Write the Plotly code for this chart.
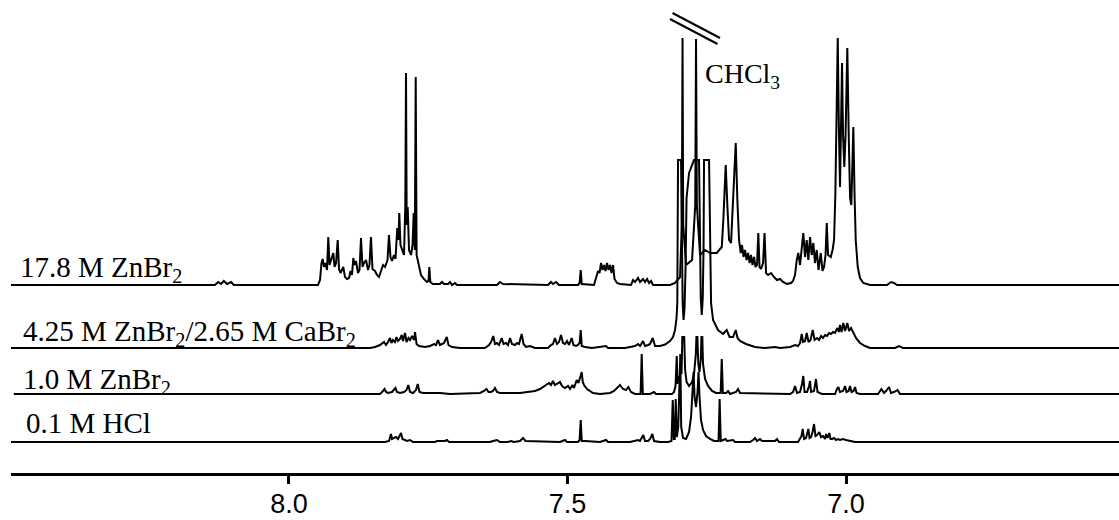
import plotly.graph_objects as go

# ---------------- data (chemical shift in ppm, intensity in a.u.) ----------------
shift_zn178 = [
    8.499, 8.133, 8.127, 8.122, 8.117, 8.111, 8.104, 8.099,
    7.9479, 7.9443, 7.9416, 7.9395, 7.9371, 7.9344, 7.9317, 7.9294, 7.9272, 7.9245,
    7.9204, 7.9182, 7.9155, 7.9125, 7.9102, 7.9075, 7.9025, 7.8994, 7.8958, 7.8922,
    7.8895, 7.8869, 7.8845, 7.8824, 7.8797, 7.8761, 7.8734, 7.8707, 7.8680, 7.8653,
    7.8617, 7.8581, 7.8555, 7.8528, 7.8501, 7.8456, 7.8420, 7.8384, 7.8348, 7.8312,
    7.8276, 7.8231, 7.8205, 7.8178, 7.8151, 7.8115, 7.8088, 7.8056, 7.8034, 7.8020,
    7.7998, 7.7971, 7.7935, 7.7912, 7.7899, 7.7887, 7.7869, 7.7845, 7.7809, 7.7782,
    7.7761, 7.7741, 7.7725, 7.7709, 7.7666, 7.7630, 7.7576, 7.7522, 7.7495, 7.7481,
    7.7463, 7.7415, 7.7289, 7.7253, 7.7217, 7.7145, 7.7109, 7.7073, 7.7019, 7.6984,
    7.6266, 7.6212, 7.6158, 7.5350, 7.5297, 7.5261, 7.5207, 7.5153,
    7.4812, 7.4783, 7.4763, 7.4744,
    7.4524, 7.4488, 7.4452, 7.4425, 7.4398, 7.4371, 7.4344, 7.4317, 7.4290, 7.4263,
    7.4236, 7.4210, 7.4183, 7.4156, 7.4111, 7.4057,
    7.3860, 7.3824, 7.3788, 7.3734, 7.3698, 7.3644, 7.3608, 7.3572, 7.3536, 7.3500, 7.3465,
    7.3160, 7.3070, 7.2980, 7.2948, 7.2935, 7.2923, 7.2872, 7.2764, 7.2707, 7.2693,
    7.2678, 7.2621, 7.2531, 7.2441,
    7.2321, 7.2231, 7.2203, 7.2160, 7.2131, 7.2100, 7.2064, 7.2028, 7.1980, 7.1951, 7.1921,
    7.1890, 7.1867, 7.1840, 7.1813, 7.1786, 7.1759, 7.1732, 7.1706, 7.1679, 7.1652, 7.1625, 7.1598,
    7.1575, 7.1553, 7.1526, 7.1490, 7.1463, 7.1436, 7.1400, 7.1346, 7.1293, 7.1239,
    7.1185, 7.1131, 7.1059, 7.0987, 7.0952,
    7.0916, 7.0885, 7.0857, 7.0826, 7.0799, 7.0767, 7.0736, 7.0706, 7.0677, 7.0646,
    7.0616, 7.0587, 7.0557, 7.0526, 7.0494,
    7.0454, 7.0422, 7.0395, 7.0368, 7.0346, 7.0323, 7.0274, 7.0242, 7.0215, 7.0192,
    7.0170, 7.0149, 7.0129,
    7.0108, 7.0090, 7.0072, 7.0054, 7.0031, 7.0009, 6.9977, 6.9952, 6.9928, 6.9905,
    6.9887, 6.9869, 6.9847, 6.9826, 6.9790, 6.9749, 6.9690, 6.9569,
    6.9264, 6.9193, 6.9139, 6.9085, 6.510,
]
inten_zn178 = [
    0, 0, 3, 1, 4, 1, 3, 0,
    0, 5, 22, 26, 18, 22, 15, 48, 20, 24,
    32, 18, 22, 45, 16, 12, 18, 8, 6, 7,
    14, 10, 27, 20, 24, 12, 15, 47, 18, 22,
    25, 15, 20, 48, 16, 14, 10, 8, 14, 20,
    18, 25, 50, 28, 24, 30, 26, 57, 45, 72,
    40, 35, 30, 80, 212, 60, 78, 35, 30, 40,
    72, 35, 208, 30, 18, 10, 6, 3, 4, 18,
    3, 1, 1, 3, 1, 1, 3, 0, 2, 0,
    0, 3, 1, 0, 3, 1, 3, 0,
    0, 2, 15, 1,
    0, 8, 14, 12, 22, 15, 20, 14, 22, 15,
    20, 12, 20, 6, 2, 1,
    0, 5, 3, 7, 3, 6, 3, 6, 2, 4, 0,
    0, 2, 8, 60, 247, 60, 20, 25, 80, 246,
    80, 30, 35, 32,
    32, 38, 65, 120, 80, 45, 42, 80, 142, 85, 45,
    32, 40, 28, 35, 25, 32, 22, 30, 20, 28, 18, 20,
    52, 18, 16, 22, 52, 12, 10, 12, 8, 5,
    6, 3, 1, 2, 4,
    10, 25, 32, 20, 35, 52, 28, 45, 25, 48,
    30, 42, 22, 35, 15,
    32, 14, 18, 30, 62, 30, 28, 35, 45, 90,
    160, 247, 160,
    98, 160, 222, 150, 118, 150, 237, 150, 87, 80,
    120, 158, 90, 45, 18, 7, 2, 0,
    0, 3, 2, 0, 0,
]

shift_zn425 = [
    8.499, 7.8545, 7.8456, 7.8366, 7.8294, 7.8258, 7.8222, 7.8187, 7.8160, 7.8133,
    7.8097, 7.8070, 7.8043, 7.8007, 7.7976, 7.7953, 7.7917, 7.7890, 7.7854, 7.7827,
    7.7791, 7.7755, 7.7737, 7.7710, 7.7666, 7.7558, 7.7468, 7.7396, 7.7360, 7.7325,
    7.7289, 7.7253, 7.7217, 7.7168, 7.7136, 7.7073, 7.6930, 7.6481, 7.6409, 7.6373,
    7.6332, 7.6302, 7.6266, 7.6230, 7.6181, 7.6149, 7.6104, 7.6068, 7.6032, 7.5997,
    7.5943, 7.5907, 7.5871, 7.5823, 7.5790, 7.5745, 7.5673, 7.5584, 7.5350, 7.5297,
    7.5261, 7.5225, 7.5189, 7.5153, 7.5117, 7.5081, 7.5045, 7.5009, 7.4973, 7.4925,
    7.4893, 7.4848, 7.4812, 7.4783, 7.4763, 7.4744, 7.4686, 7.4560, 7.4308, 7.4272,
    7.3967, 7.3878, 7.3788, 7.3734, 7.3698, 7.3644, 7.3608, 7.3554, 7.3518, 7.3470,
    7.3429, 7.3339, 7.3249, 7.3160, 7.3106, 7.3070, 7.3043, 7.3029, 7.3016, 7.2962,
    7.2948, 7.2933, 7.2917, 7.2899, 7.2881, 7.2863, 7.2818, 7.2729, 7.2639, 7.2625,
    7.2608, 7.2590, 7.2572, 7.2558, 7.2549, 7.2459, 7.2438, 7.2423, 7.2387, 7.2298,
    7.2208, 7.2142, 7.2091, 7.2028, 7.1980, 7.1948, 7.1903, 7.1795, 7.1634, 7.1454,
    7.1275, 7.1185, 7.1005, 7.0916, 7.0862, 7.0826, 7.0795, 7.0772, 7.0736, 7.0706,
    7.0673, 7.0637, 7.0598, 7.0565, 7.0520, 7.0484, 7.0449, 7.0413, 7.0377, 7.0341,
    7.0305, 7.0269, 7.0234, 7.0198, 7.0157, 7.0130, 7.0108, 7.0081, 7.0049, 7.0018,
    6.9977, 6.9946, 6.9910, 6.9874, 6.9821, 6.9749, 6.9659, 6.9569, 6.9121, 6.9049,
    6.8977, 6.510,
]
inten_zn425 = [
    0, 0, 1, 3, 6, 3, 6, 10, 5, 8,
    6, 11, 7, 9, 13, 7, 15, 6, 10, 8,
    12, 8, 16, 4, 2, 1, 2, 4, 3, 8,
    3, 4, 5, 11, 3, 1, 0, 0, 3, 6,
    12, 4, 5, 3, 10, 4, 5, 3, 10, 4,
    3, 5, 4, 14, 4, 1, 2, 0, 0, 3,
    4, 10, 4, 6, 13, 5, 4, 7, 3, 10,
    3, 2, 3, 5, 18, 2, 1, 0, 2, 0,
    0, 1, 2, 4, 2, 7, 2, 3, 4, 10,
    2, 2, 3.5, 7, 11, 18, 30, 45, 188, 188,
    100, 45, 28, 40, 80, 150, 175, 188, 188, 100,
    50, 33, 50, 100, 188, 188, 90, 45, 28, 18,
    14, 18, 11, 11, 18, 10, 7, 4, 1, 0,
    1, 0, 1, 3, 2, 5, 14, 6, 7, 15,
    6, 8, 18, 8, 10, 8, 12, 10, 13, 12,
    15, 14, 16, 15, 20, 16, 23, 16, 25, 17,
    25, 17, 20, 16, 10, 5, 2, 0, 0, 2,
    0, 0,
]

shift_zn10 = [
    8.494, 7.8366, 7.8312, 7.8285, 7.8258, 7.8222, 7.8151, 7.8115, 7.8088, 7.8061,
    7.8007, 7.7935, 7.7890, 7.7858, 7.7827, 7.7773, 7.7720, 7.7689, 7.7657, 7.7594,
    7.7289, 7.7109, 7.6750, 7.6571, 7.6499, 7.6454, 7.6418, 7.6373, 7.6338, 7.6302,
    7.6266, 7.6212, 7.5853, 7.5709, 7.5584, 7.5494, 7.5404, 7.5332, 7.5297, 7.5261,
    7.5225, 7.5189, 7.5135, 7.5099, 7.5045, 7.4991, 7.4956, 7.4911, 7.4884, 7.4835,
    7.4803, 7.4776, 7.4745, 7.4726, 7.4704, 7.4650, 7.4596, 7.4542, 7.4416, 7.4237,
    7.4165, 7.4111, 7.4057, 7.4003, 7.3949, 7.3908, 7.3860, 7.3788, 7.3688, 7.3668,
    7.3648, 7.3518, 7.3447, 7.3411, 7.3124, 7.3088, 7.3061, 7.3039, 7.3025, 7.3007,
    7.2989, 7.2971, 7.2953, 7.2939, 7.2905, 7.2890, 7.2863, 7.2818, 7.2764, 7.2729,
    7.2696, 7.2686, 7.2668, 7.2652, 7.2630, 7.2607, 7.2596, 7.2580, 7.2567, 7.2531,
    7.2477, 7.2405, 7.2334, 7.2251, 7.2231, 7.2211, 7.2154, 7.2118, 7.2082, 7.1975,
    7.1939, 7.1903, 7.1005, 7.0952, 7.0916, 7.0880, 7.0826, 7.0790, 7.0767, 7.0745,
    7.0700, 7.0664, 7.0646, 7.0628, 7.0575, 7.0539, 7.0512, 7.0431, 7.0198, 7.0162,
    7.0138, 7.0108, 7.0054, 7.0018, 6.9991, 6.9955, 6.9928, 6.9901, 6.9865, 6.9838,
    6.9811, 6.9749, 6.9426, 6.9365, 6.9318, 6.9282, 6.9228, 6.9192, 6.9139, 6.9076,
    6.9031, 6.510,
]
inten_zn10 = [
    0, 0, 3, 5, 2, 1, 2, 4, 6, 2,
    1, 2, 4, 9, 2, 1, 4, 10, 2, 1,
    1, 0, 1, 1, 3, 5, 2, 2, 3, 6,
    2, 1, 1, 2, 3, 5, 8, 11, 9, 13,
    9, 10, 12, 8, 6, 8, 5, 9, 6, 14,
    11, 16, 22, 12, 9, 5, 3, 1, 0, 1,
    3, 6, 9, 5, 4, 7, 2, 0, 0, 40,
    0, 0, 2, 0, 0, 2, 8, 38, 10, 18,
    15, 25, 20, 57, 57, 25, 12, 8, 12, 20,
    40, 57, 57, 30, 22, 35, 57, 57, 30, 15,
    8, 3, 1, 1, 35, 1, 1, 3, 0, 2,
    5, 1, 0, 2, 8, 1, 2, 10, 18, 2,
    2, 8, 13, 2, 3, 15, 2, 0, 0, 5,
    7, 2, 3, 8, 2, 3, 8, 2, 3, 7,
    1, 0, 0, 5, 1, 3, 7, 1, 2, 4,
    0, 0,
]

shift_hcl = [
    8.499, 7.8276, 7.8204, 7.8187, 7.8169, 7.8151, 7.8115, 7.8079, 7.8043, 7.8007,
    7.7989, 7.7962, 7.7917, 7.7881, 7.7827, 7.7773, 7.7378, 7.7343, 7.7199, 7.7163,
    7.7127, 7.6391, 7.6338, 7.6266, 7.6212, 7.6069, 7.6015, 7.5961, 7.5853, 7.5799,
    7.5754, 7.5135, 7.5045, 7.5009, 7.4812, 7.4783, 7.4763, 7.4744, 7.4686, 7.4416,
    7.4308, 7.4272, 7.3878, 7.3824, 7.3734, 7.3698, 7.3639, 7.3608, 7.3554, 7.3518,
    7.3477, 7.3447, 7.3339, 7.3196, 7.3133, 7.3111, 7.3091, 7.3075, 7.3057, 7.3037,
    7.3012, 7.2989, 7.2975, 7.2959, 7.2926, 7.2872, 7.2818, 7.2782, 7.2755, 7.2737,
    7.2719, 7.2693, 7.2666, 7.2648, 7.2630, 7.2603, 7.2567, 7.2513, 7.2441, 7.2370,
    7.2289, 7.2269, 7.2249, 7.2190, 7.2163, 7.2136, 7.2028, 7.1993, 7.1724, 7.1670,
    7.1634, 7.1598, 7.1544, 7.1508, 7.1275, 7.1239, 7.1203, 7.0862, 7.0826, 7.0799,
    7.0778, 7.0754, 7.0718, 7.0700, 7.0677, 7.0655, 7.0628, 7.0601, 7.0575, 7.0548,
    7.0520, 7.0480, 7.0449, 7.0413, 7.0377, 7.0359, 7.0332, 7.0300, 7.0278, 7.0252,
    7.0215, 7.0180, 7.0144, 7.0108, 7.0054, 7.0000, 6.9928, 6.9838, 6.510,
]
inten_hcl = [
    0, 0, 1, 6, 8, 3, 4, 5, 3, 8,
    9, 3, 2, 1, 2, 0, 0, 1, 1, 2,
    0, 0, 1, 2, 0, 0, 1, 0, 1, 4,
    1, 0, 2, 0, 0, 2, 22, 1, 1, 0,
    2, 0, 0, 1, 2, 1, 7, 1, 1, 3,
    8, 1, 0, 0, 1, 42, 3, 3, 43, 5,
    15, 60, 88, 15, 4, 3, 10, 25, 50, 70,
    45, 35, 50, 70, 45, 22, 12, 6, 3, 1,
    1, 43, 1, 2, 3, 1, 2, 0, 0, 2,
    4, 1, 3, 1, 1, 3, 0, 0, 3, 6,
    13, 3, 4, 8, 13, 4, 5, 10, 18, 6,
    7, 10, 5, 6, 3, 8, 4, 9, 3, 3,
    4, 2, 3, 2, 3, 2, 1, 0, 0,
]

sample_labels = [
    "17.8 M ZnBr<sub>2</sub>",
    "4.25 M ZnBr<sub>2</sub>/2.65 M CaBr<sub>2</sub>",
    "1.0 M ZnBr<sub>2</sub>",
    "0.1 M HCl",
]
tick_values = [8.0, 7.5, 7.0]
tick_labels = ["8.0", "7.5", "7.0"]

# ---------------- layout constants ----------------
offsets = [188, 125, 79, 31]          # vertical stacking of the spectra
label_x = [8.4865, 8.4811, 8.4811, 8.4757]
label_shift = [-4, -5, -7, 1]

spectra = [
    (shift_zn178, inten_zn178),
    (shift_zn425, inten_zn425),
    (shift_zn10, inten_zn10),
    (shift_hcl, inten_hcl),
]

fig = go.Figure()
for (sx, sy), off, name in zip(spectra, offsets, sample_labels):
    fig.add_trace(go.Scatter(
        x=sx, y=[v + off for v in sy], mode="lines", name=name,
        line=dict(color="black", width=2), hoverinfo="skip", showlegend=False,
    ))

serif = "Liberation Serif, Times New Roman, serif"
annotations = []
for lab, lx, off, ys in zip(sample_labels, label_x, offsets, label_shift):
    annotations.append(dict(
        x=lx, y=off, xref="x", yref="y", text=lab, showarrow=False,
        xanchor="left", yanchor="bottom", yshift=ys,
        font=dict(family=serif, size=29, color="black"),
    ))
annotations.append(dict(
    x=7.2567, y=386, xref="x", yref="y", text="CHCl<sub>3</sub>", showarrow=False,
    xanchor="left", yanchor="bottom", yshift=-8,
    font=dict(family=serif, size=28, color="black"),
))

shapes = [
    dict(type="line", xref="x", yref="y", x0=7.3115, y0=460, x1=7.2262, y1=435,
         line=dict(color="black", width=2)),
    dict(type="line", xref="x", yref="y", x0=7.3160, y0=454, x1=7.2307, y1=429,
         line=dict(color="black", width=2)),
]

fig.update_layout(
    width=1119, height=520,
    margin=dict(l=11, r=0, t=0, b=47, autoexpand=False),
    paper_bgcolor="white", plot_bgcolor="white",
    annotations=annotations, shapes=shapes,
    xaxis=dict(
        range=[8.499, 6.510], tickvals=tick_values, ticktext=tick_labels,
        showline=True, linecolor="black", linewidth=3,
        ticks="outside", ticklen=8, tickwidth=2.5, tickcolor="black",
        ticklabelstandoff=-3, automargin=False,
        tickfont=dict(family="Liberation Sans, Arial, sans-serif", size=27, color="black"),
        showgrid=False, zeroline=False,
    ),
    yaxis=dict(range=[0, 473], visible=False, showgrid=False, zeroline=False,
               automargin=False),
)

fig.write_html(
    "out.html",
    config={"displayModeBar": False},
    post_script="document.body.style.margin='0';document.body.style.padding='0';"
                "document.body.style.overflow='hidden';",
)
